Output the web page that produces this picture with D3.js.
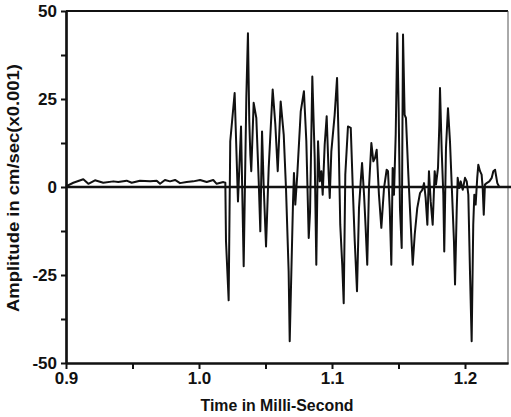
<!DOCTYPE html>
<html>
  <head>
    <meta charset="utf-8">
    <script src="https://cdn.jsdelivr.net/npm/d3@7"></script>
    <style>
      body { margin: 0; background: #fff; }
      text { font-family: "Liberation Sans", Arial, sans-serif; font-weight: bold; fill: #111; }
    </style>
  </head>
  <body>
    <svg id="trace" width="511" height="417"></svg>
    <script>
    // time in milli-second
    var times = [
      0.9000, 0.9055, 0.9130, 0.9168, 0.9218, 0.9280, 0.9356, 0.9393, 0.9456, 0.9494,
      0.9556, 0.9632, 0.9682, 0.9707, 0.9744, 0.9782, 0.9820, 0.9857, 0.9907, 0.9957,
      1.0008, 1.0058, 1.0107, 1.0133, 1.0183, 1.0198,
      1.0203, 1.0223, 1.0235, 1.0268, 1.0293, 1.0316, 1.0336, 1.0356, 1.0368, 1.0378,
      1.0386, 1.0393, 1.0411, 1.0431, 1.0449, 1.0461, 1.0474, 1.0486, 1.0504, 1.0524,
      1.0554, 1.0574, 1.0592, 1.0614, 1.0637, 1.0654, 1.0674, 1.0682, 1.0707, 1.0714,
      1.0724, 1.0739, 1.0765, 1.0789, 1.0807, 1.0825, 1.0835, 1.0852, 1.0870, 1.0882,
      1.0895, 1.0908, 1.0920, 1.0930, 1.0945, 1.0960, 1.0975, 1.0983, 1.0995, 1.1020,
      1.1038, 1.1050, 1.1062, 1.1077, 1.1088, 1.1100, 1.1120, 1.1141, 1.1158, 1.1171,
      1.1188, 1.1203, 1.1216, 1.1226, 1.1241, 1.1253, 1.1265, 1.1278, 1.1296, 1.1311,
      1.1323, 1.1336, 1.1353, 1.1371, 1.1391, 1.1411, 1.1421, 1.1434, 1.1446, 1.1456,
      1.1466, 1.1479, 1.1491, 1.1501, 1.1511, 1.1524, 1.1534, 1.1546, 1.1556, 1.1574,
      1.1586, 1.1607, 1.1622, 1.1641, 1.1662, 1.1679, 1.1692, 1.1704, 1.1717, 1.1729,
      1.1742, 1.1757, 1.1772, 1.1782, 1.1797, 1.1807, 1.1812, 1.1825, 1.1837, 1.1844,
      1.1857, 1.1872, 1.1887, 1.1902, 1.1917, 1.1925, 1.1938, 1.1945, 1.1957, 1.1968,
      1.1983, 1.2000, 1.2013, 1.2025, 1.2038, 1.2050, 1.2062, 1.2070, 1.2080, 1.2092,
      1.2100, 1.2113, 1.2125, 1.2133, 1.2141, 1.2150, 1.2163, 1.2183, 1.2201, 1.2213,
      1.2226, 1.2243, 1.2258
    ];
    // amplitude in cm/sec (x0.001)
    var amps = [
      0.2, 1.2, 2.2, 0.9, 1.9, 1.2, 1.6, 1.4, 1.8, 1.2,
      1.8, 1.6, 1.8, 0.9, 2.0, 1.6, 2.0, 1.1, 1.4, 1.6,
      2.0, 1.4, 2.0, 0.9, 1.4, 1.2,
      -15.4, -32.2, 13.0, 26.7, -4.1, 17.2, -22.5, 25.8, 43.7, 18.7,
      9.2, 4.5, 23.9, 19.6, 1.6, -12.6, 15.8, 0.7, -16.9, 5.4,
      27.7, 17.7, 4.5, 24.3, 14.9, -0.3, -24.0, -43.8, -4.1, 4.0,
      -5.0, 3.5, 21.5, 27.2, 13.0, -14.5, -7.0, 31.4, 8.2, -22.1,
      13.0, 1.6, 4.5, -2.2, 12.0, 20.1, 3.5, -3.1, 10.1, 20.5,
      31.0, 13.0, -10.7, -22.1, -33.0, 3.5, 17.2, 16.8, -2.2, -15.4,
      -29.6, -6.0, 1.6, 6.8, -2.2, -11.6, -22.1, -0.3, 12.5, 7.3,
      8.2, 10.6, -2.2, -11.6, -0.3, 4.9, 4.5, -6.0, -22.1, 5.4,
      -2.2, 14.9, 43.7, 22.4, -6.0, -17.3, 43.3, 20.5, 19.6, 3.5,
      -6.0, -22.1, -13.5, -6.0, -1.7, -0.8, 1.1, -3.1, -10.7, 4.5,
      -4.1, -10.7, 4.5, 0.7, 5.4, 17.7, 28.1, 10.1, -2.2, -18.3,
      11.1, 22.4, 13.0, -1.2, -15.4, -27.7, -6.0, 2.6, -0.3, 1.6,
      -0.8, 2.6, 1.6, -2.2, -24.9, -43.8, -10.7, -2.2, -5.0, 2.6,
      6.3, 4.5, 3.5, -0.3, -7.9, 0.7, 1.1, 1.6, 2.6, 4.5,
      4.9, 1.1, 0.0
    ];
    var xTicks = [0.9, 1.0, 1.1, 1.2]
    , xMinor = [0.95, 1.05, 1.15]
    , yTicks = [-50, -25, 0, 25, 50]
    , yMinor = [-37.5, -12.5, 12.5, 37.5];

    var plotLeft = 66, plotRight = 508, plotTop = 11, plotBottom = 363;
    var svg = d3.select("#trace");

    var x = d3.scaleLinear().domain([0.9, 0.9 + (plotRight - plotLeft) / 1330]).range([plotLeft, plotRight]);
    var y = d3.scaleLinear().domain([-50, 50]).range([plotBottom, plotTop]);

    // frame top and right
    svg.append("line").attr("x1", plotLeft).attr("x2", plotRight).attr("y1", plotTop).attr("y2", plotTop)
      .attr("stroke", "#111").attr("stroke-width", 2);
    svg.append("line").attr("x1", plotRight).attr("x2", plotRight).attr("y1", plotTop).attr("y2", plotBottom)
      .attr("stroke", "#555").attr("stroke-width", 1);

    function styleAxis(g){
      g.select(".domain").attr("stroke", "#111").attr("stroke-width", 2.2);
      g.selectAll(".tick line").attr("stroke", "#111").attr("stroke-width", 2);
      g.selectAll("text").attr("font-size", 17).attr("fill", "#111")
        .style("font-family", "'Liberation Sans', Arial, sans-serif").style("font-weight", "bold");
    }

    svg.append("g").attr("transform", "translate(0," + plotBottom + ")")
      .call(d3.axisBottom(x).tickValues(xMinor).tickSize(6).tickSizeOuter(0).tickFormat(""))
      .call(styleAxis);
    svg.append("g").attr("transform", "translate(0," + plotBottom + ")")
      .call(d3.axisBottom(x).tickValues(xTicks).tickSize(6).tickSizeOuter(0).tickPadding(3)
        .tickFormat(d3.format(".1f")))
      .call(styleAxis);

    svg.append("g").attr("transform", "translate(" + plotLeft + ",0)")
      .call(d3.axisLeft(y).tickValues(yMinor).tickSize(5).tickSizeOuter(0).tickFormat(""))
      .call(styleAxis);
    svg.append("g").attr("transform", "translate(" + plotLeft + ",0)")
      .call(d3.axisLeft(y).tickValues(yTicks).tickSize(5).tickSizeOuter(0).tickPadding(4)
        .tickFormat(function(d){ return String(d); }))
      .call(styleAxis);

    // zero line
    svg.append("line").attr("x1", plotLeft).attr("x2", 511).attr("y1", y(0)).attr("y2", y(0))
      .attr("stroke", "#111").attr("stroke-width", 2.5);

    var points = times.map(function(t, i){ return [t, amps[i]]; });
    svg.append("path").datum(points)
      .attr("fill", "none").attr("stroke", "#111").attr("stroke-width", 2)
      .attr("stroke-linejoin", "round")
      .attr("d", d3.line().x(function(d){ return x(d[0]); }).y(function(d){ return y(d[1]); }));

    svg.append("text").attr("x", 277).attr("y", 411).attr("text-anchor", "middle")
      .attr("font-size", 16).attr("textLength", 153).attr("lengthAdjust", "spacingAndGlyphs")
      .text("Time in Milli-Second");
    svg.append("text").attr("transform", "translate(19,188) rotate(-90)").attr("text-anchor", "middle")
      .attr("font-size", 16).attr("textLength", 248).attr("lengthAdjust", "spacingAndGlyphs")
      .text("Amplitude in cm/sec(x0.001)");
    </script>
  </body>
</html>
